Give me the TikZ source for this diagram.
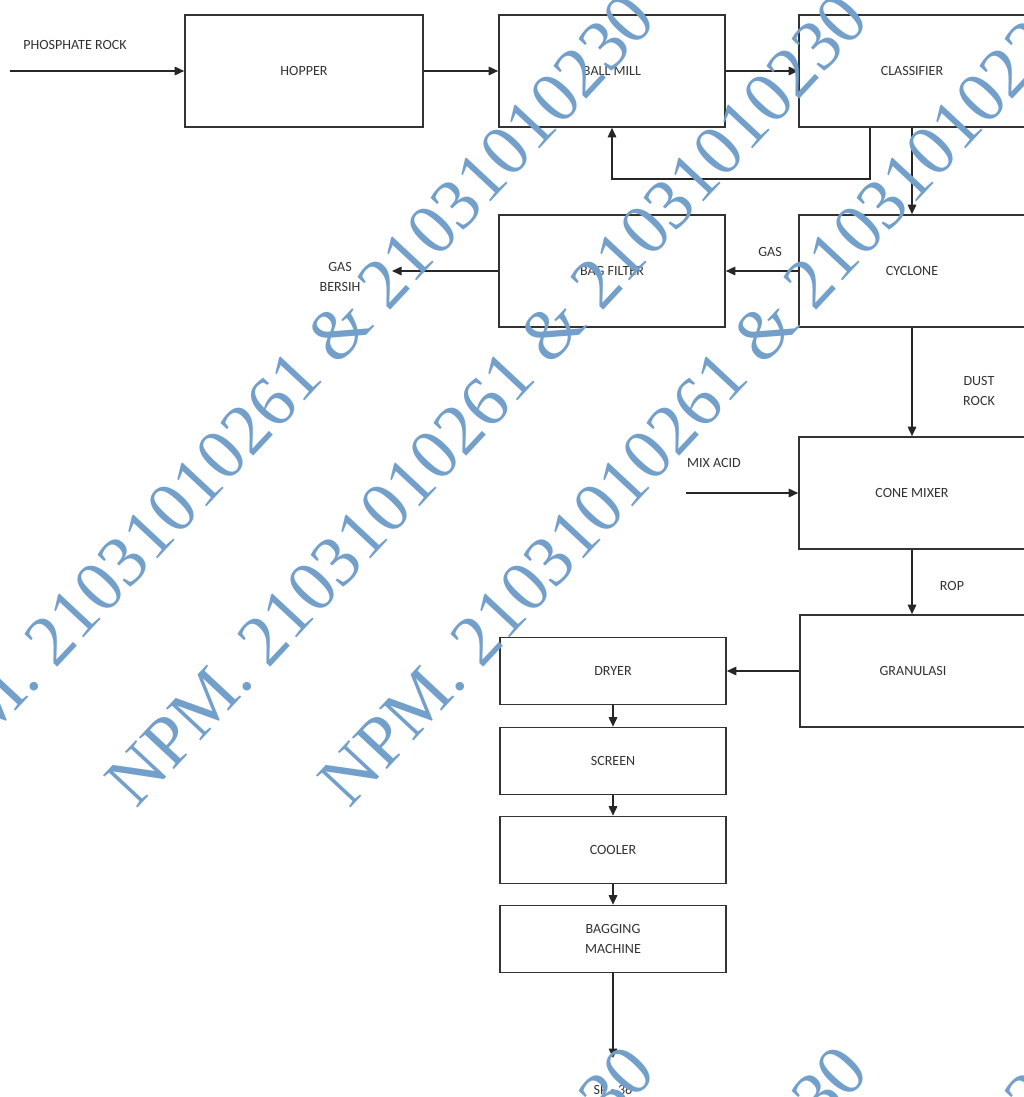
\documentclass[tikz,border=0pt]{standalone}
\usepackage{fontspec}
\setmainfont{Carlito}
\newfontfamily\wmfont{Liberation Serif}
\usetikzlibrary{arrows.meta, positioning}
\definecolor{wmblue}{RGB}{115,160,203}

\begin{document}
\begin{tikzpicture}[x=0.2mm, y=-0.2mm,
  unit/.style={draw=black!80, line width=0.9pt, fill=white, minimum width=45.2mm,
    minimum height=22.4mm, text=black!80, font=\fontsize{8}{11}\selectfont, align=center},
  small/.style={unit, minimum height=13.4mm},
  lbl/.style={text=black!80, font=\fontsize{8}{11}\selectfont, align=center, inner sep=0pt},
  flow/.style={draw=black!85, line width=0.9pt, -{Triangle[length=1.9mm, width=1.7mm]}},
  wm/.style={text=wmblue, font=\wmfont\fontsize{41}{41}\selectfont, rotate=47, inner sep=0pt}]
  \useasboundingbox (0,0) rectangle (1023,1097);

  % units
  \node[unit, minimum width=47.6mm] (hopper) at (304,71) {HOPPER};
  \node[unit] (ballmill) at (612,71) {BALL MILL};
  \node[unit] (classifier) at (912,71) {CLASSIFIER};
  \node[unit] (bagfilter) at (612,271) {BAG FILTER};
  \node[unit] (cyclone) at (912,271) {CYCLONE};
  \node[unit] (conemixer) at (912,493) {CONE MIXER};
  \node[unit] (granulasi) at (913,671) {GRANULASI};
  \node[small] (dryer) at (613,671) {DRYER};
  \node[small] (screen) at (613,761) {SCREEN};
  \node[small] (cooler) at (613,850) {COOLER};
  \node[small] (bagging) at (613,939) {BAGGING\\MACHINE};

  % stream labels
  \node[lbl] (rock) at (75,45) {PHOSPHATE ROCK};
  \node[lbl] (gas) at (770,252) {GAS};
  \node[lbl] (clean) at (340,277) {GAS\\BERSIH};
  \node[lbl] (dust) at (979,391) {DUST\\ROCK};
  \node[lbl] (acid) at (714,463) {MIX ACID};
  \node[lbl] (rop) at (952,586) {ROP};
  \node[lbl] (sp) at (613,1090) {SP - 36};

  \coordinate (feed) at (10,71);
  \coordinate (gasout) at (392,271);
  \coordinate (acidin) at (686,493);
  \coordinate (prod) at (613,1058);

  % streams
  \draw[flow] (feed) -- (hopper);
  \draw[flow] (hopper) -- (ballmill);
  \draw[flow] (ballmill) -- (classifier);
  \draw[flow] ([xshift=-8.4mm]classifier.south) -- ++(0,51) -| (ballmill.south);
  \draw[flow] (classifier) -- (cyclone);
  \draw[flow] (cyclone) -- (bagfilter);
  \draw[flow] (bagfilter) -- (gasout);
  \draw[flow] (cyclone) -- (conemixer);
  \draw[flow] (acidin) -- (conemixer.west);
  \draw[flow] (conemixer.south) -- (conemixer.south |- granulasi.north);
  \draw[flow] (granulasi) -- (dryer);
  \draw[flow] (dryer) -- (screen);
  \draw[flow] (screen) -- (cooler);
  \draw[flow] (cooler) -- (bagging);
  \draw[flow] (bagging) -- (prod);

  % watermark
  \foreach \cx in {274,487,700} {
    \node[wm] (mark-\cx) at (\cx,400) {NPM. 21031010261 \& 21031010230};
    \node[wm] (markb-\cx) at (\cx,1452) {NPM. 21031010261 \& 21031010230};
  }
\end{tikzpicture}
\end{document}
